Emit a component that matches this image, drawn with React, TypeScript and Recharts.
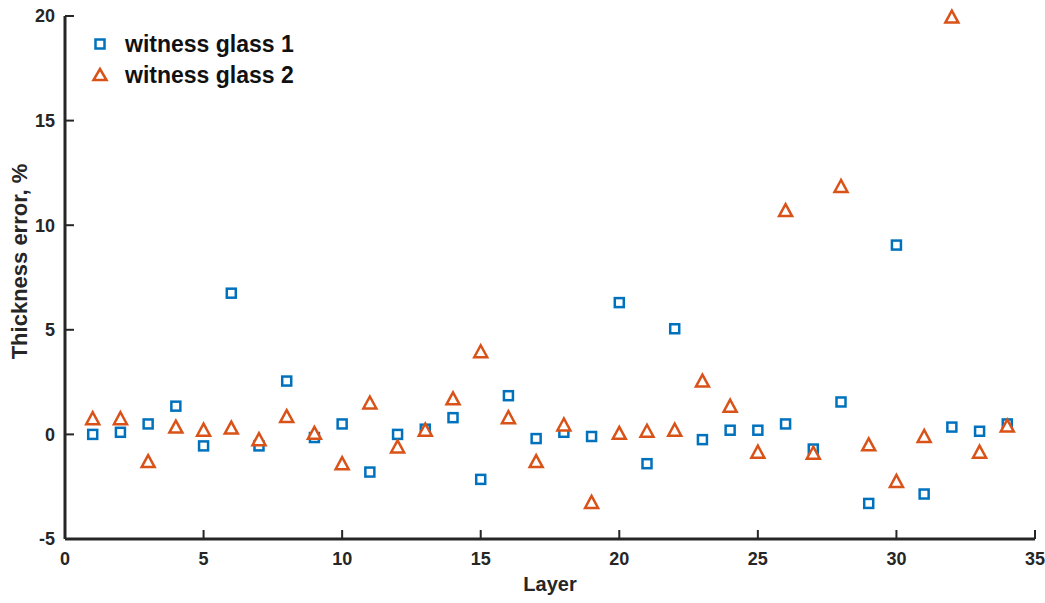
import { ScatterChart, Scatter, XAxis, YAxis, Label } from "recharts";

const layers = [
  1, 2, 3, 4, 5, 6, 7, 8, 9, 10, 11, 12, 13, 14, 15, 16, 17,
  18, 19, 20, 21, 22, 23, 24, 25, 26, 27, 28, 29, 30, 31, 32, 33, 34,
];

const glass1 = [
  0, 0.1, 0.5, 1.35, -0.55, 6.75, -0.55, 2.55, -0.15, 0.5, -1.8, 0, 0.25, 0.8, -2.15, 1.85, -0.2,
  0.1, -0.1, 6.3, -1.4, 5.05, -0.25, 0.2, 0.2, 0.5, -0.7, 1.55, -3.3, 9.05, -2.85, 0.35, 0.15, 0.5,
];

const glass2 = [
  0.75, 0.75, -1.3, 0.35, 0.2, 0.3, -0.25, 0.85, 0.05, -1.4, 1.5, -0.6, 0.2, 1.7, 3.95, 0.8, -1.3,
  0.45, -3.25, 0.05, 0.15, 0.2, 2.55, 1.35, -0.85, 10.7, -0.9, 11.85, -0.5, -2.25, -0.1, 19.95, -0.85, 0.4,
];

const xTicks = [0, 5, 10, 15, 20, 25, 30, 35];
const yTicks = [-5, 0, 5, 10, 15, 20];

const BLUE = "#0072BD";
const ORANGE = "#D95319";

const data1 = layers.map((l, i) => ({ layer: l, err: glass1[i] }));
const data2 = layers.map((l, i) => ({ layer: l, err: glass2[i] }));

const Square = (props: any) => {
  const { cx, cy } = props;
  return <rect x={cx - 4.5} y={cy - 4.5} width={9} height={9} fill="#fff" stroke={BLUE} strokeWidth={2.5} />;
};

const Triangle = (props: any) => {
  const { cx, cy } = props;
  const h = 11;
  const w = 13;
  const pts = `${cx},${cy - h / 2 - 1} ${cx - w / 2},${cy + h / 2} ${cx + w / 2},${cy + h / 2}`;
  return <polygon points={pts} fill="#fff" stroke={ORANGE} strokeWidth={2.5} />;
};

const legendFont = "Liberation Sans, Arial, sans-serif";

const LegendBox = () => (
  <svg width={260} height={70} style={{ position: "absolute", left: 90, top: 28 }}>
    <rect x={5.5} y={11.5} width={9} height={9} fill="#fff" stroke={BLUE} strokeWidth={2.5} />
    <text x={35} y={24} fontSize={23} fontWeight="bold" fontFamily={legendFont} fill="#111">
      witness glass 1
    </text>
    <polygon points="10,41 3.5,52 16.5,52" fill="#fff" stroke={ORANGE} strokeWidth={2.5} />
    <text x={35} y={55} fontSize={23} fontWeight="bold" fontFamily={legendFont} fill="#111">
      witness glass 2
    </text>
  </svg>
);

const tickStyle = {
  fontSize: 18,
  fontWeight: "bold" as const,
  fontFamily: "Liberation Sans Narrow, Arial Narrow, Liberation Sans, Arial, sans-serif",
  fill: "#262626",
};

const YTitle = (props: any) => {
  const { viewBox } = props;
  const x = viewBox.x + 19;
  const y = viewBox.y + viewBox.height / 2 - 16;
  return (
    <text
      x={x}
      y={y}
      transform={`rotate(-90, ${x}, ${y})`}
      textAnchor="middle"
      dominantBaseline="central"
      fontSize={22}
      fontWeight="bold"
      fontFamily={legendFont}
      fill="#262626"
    >
      Thickness error, %
    </text>
  );
};

export default function App() {
  return (
    <div style={{ position: "absolute", left: 0, top: 0, width: 1045, height: 603, background: "#fff" }}>
      <ScatterChart width={1045} height={603} margin={{ top: 16, right: 10, bottom: 0, left: 0 }}>
        <XAxis
          type="number"
          dataKey="layer"
          domain={[0, 35]}
          ticks={xTicks}
          height={64}
          stroke="#262626"
          strokeWidth={3}
          tickSize={-9}
          tickMargin={22}
          tick={tickStyle}
          tickLine={{ stroke: "#262626", strokeWidth: 2 }}
        >
          <Label
            value="Layer"
            position="insideBottom"
            offset={12}
            style={{ fontSize: 20, fontWeight: "bold", fontFamily: legendFont, fill: "#262626" }}
          />
        </XAxis>
        <YAxis
          type="number"
          dataKey="err"
          domain={[-5, 20]}
          ticks={yTicks}
          width={65}
          stroke="#262626"
          strokeWidth={3}
          tickSize={-9}
          tickMargin={19}
          tick={tickStyle}
          tickLine={{ stroke: "#262626", strokeWidth: 2 }}
        >
          <Label content={<YTitle />} />
        </YAxis>
        <Scatter name="witness glass 1" data={data1} shape={<Square />} isAnimationActive={false} />
        <Scatter name="witness glass 2" data={data2} shape={<Triangle />} isAnimationActive={false} />
      </ScatterChart>
      <LegendBox />
    </div>
  );
}
